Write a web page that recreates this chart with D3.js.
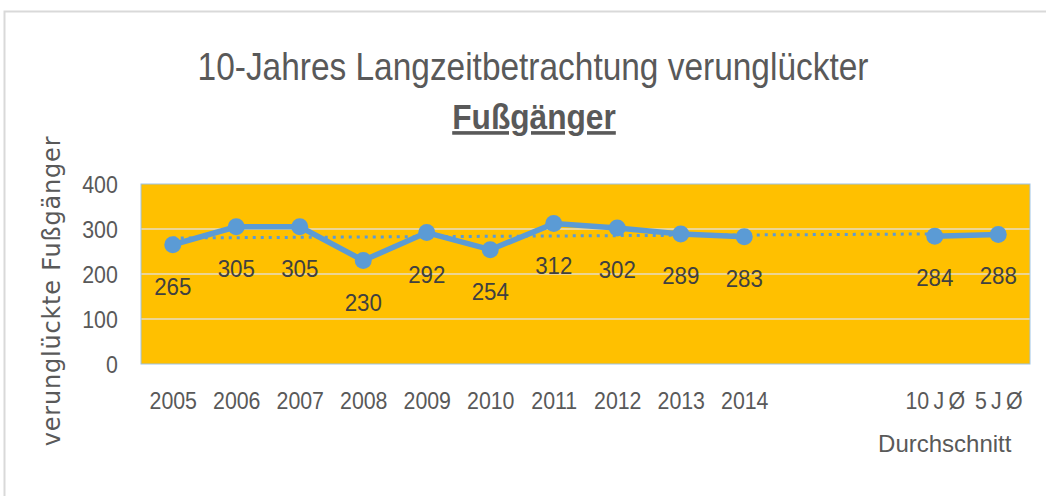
<!DOCTYPE html>
<html>
<head>
<meta charset="utf-8">
<script src="https://cdn.jsdelivr.net/npm/d3@7"></script>
<style>
  body { margin: 0; background: #fff; }
  svg { display: block; }
</style>
</head>
<body>
<svg id="chart" width="1046" height="496"></svg>
<script>
// Chart data
const categories = ["2005", "2006", "2007", "2008", "2009", "2010", "2011", "2012", "2013", "2014", "", "", "10\u2009J\u2009Ø", "5\u2009J\u2009Ø"];
const values = [265, 305, 305, 230, 292, 254, 312, 302, 289, 283, null, null, 284, 288];
const trendCats = [0, 12];        // trend line runs from 2005 to 10 J Ø
const trendValues = [280, 289];   // dotted linear trend
const yTicks = [0, 100, 200, 300, 400];
const groupLabel = "Durchschnitt";
const groupCats = [11, 13];       // second-level label spans these categories

const titleText = "10-Jahres Langzeitbetrachtung verunglückter";
const subtitleText = "Fußgänger";
const yLabelText = "verunglückte Fußgänger";

// Layout
const width = 1046, height = 496;
const plot = { left: 141, right: 1030, top: 184, bottom: 364 };
const font = "'Liberation Sans', Arial, sans-serif";
const squeeze = 0.89;   // the original text is a narrow font
const lineColor = "#5b9bd5";

const svg = d3.select("#chart");

// chart frame (light grey border of the chart object)
svg.append("path")
    .attr("d", `M${width},11.5 H4.5 V${height}`)
    .attr("fill", "none")
    .attr("stroke", "#d9d9d9")
    .attr("stroke-width", 2);

// Scales
const x = d3.scalePoint()
    .domain(d3.range(categories.length))
    .range([plot.left, plot.right])
    .padding(0.5);

const y = d3.scaleLinear()
    .domain([0, 400])
    .range([plot.bottom, plot.top]);

// Plot area background
svg.append("rect")
    .attr("x", plot.left)
    .attr("y", plot.top)
    .attr("width", plot.right - plot.left)
    .attr("height", plot.bottom - plot.top)
    .attr("fill", "#ffc000");

// Gridlines
svg.append("g")
    .selectAll("line")
    .data(yTicks.filter(d => d > 0 && d < 400))
    .join("line")
    .attr("x1", plot.left)
    .attr("x2", plot.right)
    .attr("y1", d => y(d))
    .attr("y2", d => y(d))
    .attr("stroke", "#e6dcc4")
    .attr("stroke-width", 1.5);

// plot border
svg.append("rect")
    .attr("x", plot.left)
    .attr("y", plot.top)
    .attr("width", plot.right - plot.left)
    .attr("height", plot.bottom - plot.top)
    .attr("fill", "none")
    .attr("stroke", "#9dc3e6")
    .attr("stroke-width", 1);

// Y axis
const yAxis = svg.append("g")
    .attr("transform", `translate(${plot.left},0)`)
    .call(d3.axisLeft(y).tickValues(yTicks).tickSize(0).tickPadding(26));
yAxis.select(".domain").remove();
yAxis.selectAll("text")
    .attr("font-family", font)
    .attr("font-size", 24)
    .attr("fill", "#595959")
    .attr("dy", "0.36em")
    .attr("transform", `scale(${squeeze},1)`);

// X axis
const xAxis = svg.append("g")
    .attr("transform", `translate(0,${plot.bottom})`)
    .call(d3.axisBottom(x).tickFormat(i => categories[i]).tickSize(0).tickPadding(28));
xAxis.select(".domain").remove();
xAxis.selectAll("text")
    .attr("font-family", font)
    .attr("font-size", 24)
    .attr("fill", "#595959")
    .attr("transform", `scale(${squeeze},1)`);

// second level category label
svg.append("text")
    .attr("x", (x(groupCats[0]) + x(groupCats[1])) / 2 + 10)
    .attr("y", 452)
    .attr("text-anchor", "middle")
    .attr("font-family", font)
    .attr("font-size", 24)
    .attr("fill", "#595959")
    .text(groupLabel);

// Trend line (dotted)
svg.append("line")
    .attr("x1", x(trendCats[0]))
    .attr("x2", x(trendCats[1]))
    .attr("y1", y(trendValues[0]))
    .attr("y2", y(trendValues[1]))
    .attr("stroke", lineColor)
    .attr("stroke-width", 3)
    .attr("stroke-dasharray", "3,5");

// Series line
const points = values.map((v, i) => ({ i, v }));
const line = d3.line()
    .defined(d => d.v !== null)
    .x(d => x(d.i))
    .y(d => y(d.v));

svg.append("path")
    .datum(points)
    .attr("d", line)
    .attr("fill", "none")
    .attr("stroke", lineColor)
    .attr("stroke-width", 5.5)
    .attr("stroke-linejoin", "round");

// Markers
svg.append("g")
    .selectAll("circle")
    .data(points.filter(d => d.v !== null))
    .join("circle")
    .attr("cx", d => x(d.i))
    .attr("cy", d => y(d.v))
    .attr("r", 8.5)
    .attr("fill", lineColor);

// Value labels (below the points)
svg.append("g")
    .selectAll("text")
    .data(points.filter(d => d.v !== null))
    .join("text")
    .attr("transform", d => `translate(${x(d.i)},${y(d.v) + 50}) scale(0.93,1)`)
    .attr("text-anchor", "middle")
    .attr("font-family", font)
    .attr("font-size", 24)
    .attr("fill", "#404040")
    .text(d => d.v);

// Titles
svg.append("text")
    .attr("transform", `translate(533,80) scale(0.88,1)`)
    .attr("text-anchor", "middle")
    .attr("font-family", font)
    .attr("font-size", 38)
    .attr("fill", "#595959")
    .text(titleText);

svg.append("text")
    .attr("transform", `translate(534,129) scale(0.88,1)`)
    .attr("text-anchor", "middle")
    .attr("font-family", font)
    .attr("font-size", 36)
    .attr("font-weight", "bold")
    .attr("text-decoration", "underline")
    .attr("fill", "#595959")
    .text(subtitleText);

// Y axis label
svg.append("text")
    .attr("transform", "translate(60,291) rotate(-90)")
    .attr("text-anchor", "middle")
    .attr("font-family", "'DejaVu Sans', sans-serif")
    .attr("font-size", 24)
    .attr("letter-spacing", 0.8)
    .attr("fill", "#595959")
    .text(yLabelText);
</script>
</body>
</html>
